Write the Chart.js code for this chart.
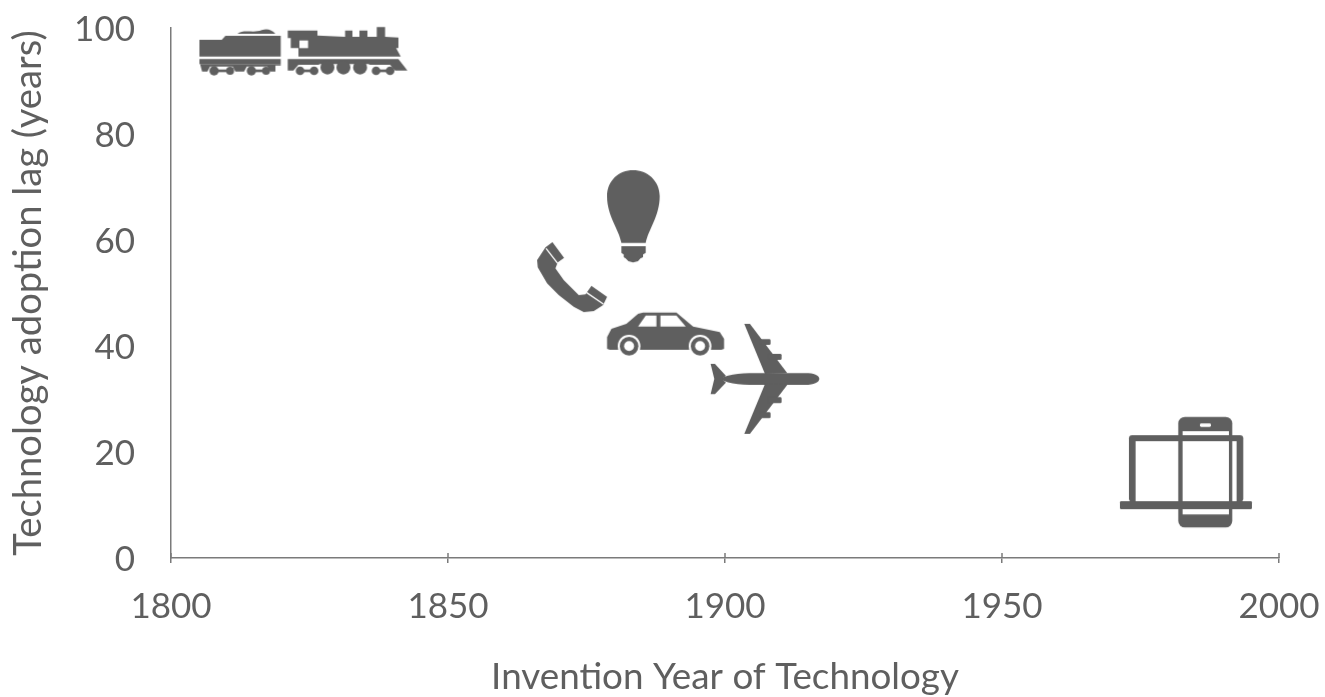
<!DOCTYPE html>
<html><head><meta charset="utf-8">
<style>html,body{margin:0;padding:0;background:#fff}#w{width:1325px;height:697px;position:relative}</style>
<script src="https://cdn.jsdelivr.net/npm/chart.js@4"></script></head>
<body><div id="w"><canvas id="c" width="1325" height="697"></canvas></div>
<script>
const technologies = ["Railroad","Telephone","Light bulb","Automobile","Airplane","Computer and phone"];
const inventionYears = [1823.9,1872.4,1883.4,1889.3,1907.2,1983.2];
const adoptionLags = [95.7,53,64.5,42.3,33.8,16.2];
const xTicks = [1800,1850,1900,1950,2000];
const yTicks = [0,20,40,60,80,100];
const xTitle = "Invention Year of Technology";
const yTitle = "Technology adoption lag (years)";
const INK = "#5f5f5f", TEXT = "#5f5f5f", AXIS = "#7a7a7a";
const FONT = "Lato";

function icon(w,h,cx,cy,draw){
  const c=document.createElement("canvas");c.width=w;c.height=h;
  const g=c.getContext("2d");
  g.translate(w/2,h/2);g.scale(1/3,1/3);g.translate(-cx,-cy);
  g.fillStyle=INK;g.strokeStyle=INK;g.lineJoin="round";
  draw(g);return c;
}
function poly(g,p,col){g.beginPath();p.forEach((q,i)=>i?g.lineTo(q[0],q[1]):g.moveTo(q[0],q[1]));g.closePath();if(col)g.fillStyle=col;g.fill();g.fillStyle=INK;}
function circ(g,x,y,r,col){g.beginPath();g.arc(x,y,r,0,7);if(col)g.fillStyle=col;g.fill();g.fillStyle=INK;}
function rr(g,x0,y0,x1,y1,r,col){g.beginPath();g.roundRect(x0,y0,x1-x0,y1-y0,r);if(col)g.fillStyle=col;g.fill();g.fillStyle=INK;}

const trainIcon=icon(226,70,340,108,g=>{
  poly(g,[[28,75],[95,75],[106,63],[272,63],[272,125],[28,125]]);
  g.beginPath();g.moveTo(142,57);g.bezierCurveTo(160,42,190,56,215,46);g.bezierCurveTo(230,40,245,44,256,57);g.closePath();g.fill();
  rr(g,28,133,272,148,0);
  poly(g,[[30,148],[272,148],[272,152],[256,152],[256,170],[240,170],[232,155],[170,155],[162,170],[136,170],[128,155],[60,155],[52,170],[36,170]]);
  [[72,168,109,120],[184,168,221,228]].forEach(([a,y,b,c])=>{circ(g,a,y,14);circ(g,c,y,12);rr(g,a,y-4,c,y+4,0);});
  poly(g,[[293,47],[382,47],[382,62],[465,66],[465,47],[487,47],[487,66],[508,66],[508,47],[532,47],[532,66],[560,66],[560,37],[585,37],[585,66],[625,68],[625,100],[618,100],[632,125],[325,125],[325,100],[302,100],[302,70],[293,70]]);
  rr(g,328,77,354,100,0,"#fff");
  poly(g,[[293,133],[625,133],[652,167],[615,167],[600,150],[540,150],[535,148],[390,148],[385,150],[325,150],[310,167],[293,167]]);
  [412,460,510].forEach(x=>circ(g,x,158,21));
  [[330,372],[558,600]].forEach(([a,b])=>{circ(g,a,168,13);circ(g,b,168,13);rr(g,a,164,b,172,0);});
});
const bulbIcon=icon(64,100,310,165,g=>{
  g.beginPath();g.moveTo(275,245);g.bezierCurveTo(268,205,232,165,232,105);g.bezierCurveTo(232,58,268,27,310,27);g.bezierCurveTo(352,27,390,58,390,105);g.bezierCurveTo(390,165,356,205,348,245);g.closePath();g.fill();
  poly(g,[[275,255],[348,255],[348,275],[340,280],[340,288],[332,292],[325,300],[310,304],[296,300],[288,292],[282,288],[282,280],[275,275]]);
});
const phoneIcon=icon(80,78,125,351,g=>{
  poly(g,[[45,262],[66,246],[101,293],[82,307],[75,325],[100,360],[145,405],[165,403],[183,377],[230,410],[218,435],[190,453],[160,456],[130,440],[85,405],[50,370],[22,322],[20,300]]);
  g.strokeStyle="#fff";g.lineWidth=4;
  g.beginPath();g.moveTo(47,265);g.lineTo(82,310);g.moveTo(168,397);g.lineTo(219,432);g.stroke();
});
const carIcon=icon(124,50,408,520,g=>{
  poly(g,[[232,565],[232,530],[245,505],[290,490],[325,460],[340,456],[440,456],[490,498],[570,515],[583,535],[583,565],[575,568],[240,568]]);
  poly(g,[[325,498],[348,465],[380,465],[380,498]],"#fff");
  poly(g,[[392,465],[440,465],[468,498],[392,498]],"#fff");
  [298,511].forEach(x=>{circ(g,x,557,34,"#fff");circ(g,x,557,28);circ(g,x,557,15,"#fff");});
});
const planeIcon=icon(116,116,705,657,g=>{
  g.beginPath();g.moveTo(570,657);g.bezierCurveTo(600,640,640,640,700,640);g.lineTo(835,640);g.bezierCurveTo(860,642,868,650,868,657);g.bezierCurveTo(868,664,860,672,835,675);g.lineTo(700,675);g.bezierCurveTo(640,675,600,675,570,657);g.fill();
  poly(g,[[542,612],[555,612],[588,648],[575,657],[588,668],[555,703],[542,703],[553,657]]);
  poly(g,[[643,492],[660,492],[772,640],[705,642]]);
  poly(g,[[643,822],[660,822],[772,675],[705,673]]);
  rr(g,690,538,722,555,4);rr(g,715,582,755,600,4);
  rr(g,715,712,755,730,4);rr(g,690,757,722,775,4);
});
const deviceIcon=icon(136,116,228,201,g=>{
  rr(g,205,35,367,367,20);
  rr(g,218,78,357,328,0,"#fff");
  rr(g,270,55,303,65,4,"#fff");
  rr(g,57,90,400,290,10);
  rr(g,77,108,205,290,0,"#fff");
  rr(g,218,108,357,290,0,"#fff");
  rr(g,367,108,380,290,0,"#fff");
  rr(g,30,288,426,312,4);
});
const icons=[trainIcon,phoneIcon,bulbIcon,carIcon,planeIcon,deviceIcon];

const innerTicks={id:"innerTicks",afterDraw(ch){
  const g=ch.ctx,s=ch.scales.x,b=s.top;
  g.save();g.strokeStyle=AXIS;g.lineWidth=1.5;
  xTicks.forEach(v=>{const x=s.getPixelForValue(v);g.beginPath();g.moveTo(x,b-5);g.lineTo(x,b);g.stroke();});
  g.restore();
}};

new Chart(document.getElementById("c"),{
  type:"scatter",
  data:{datasets:[{label:"Technologies",
    data:inventionYears.map((x,i)=>({x,y:adoptionLags[i],name:technologies[i]})),
    pointStyle:icons,pointRadius:1,showLine:false,clip:false}]},
  plugins:[innerTicks],
  options:{responsive:false,animation:false,
    events:[],
    layout:{padding:{top:28,right:46,left:0,bottom:0}},
    plugins:{legend:{display:false},tooltip:{enabled:false}},
    scales:{
      x:{type:"linear",min:1800,max:2000,
        afterBuildTicks(s){s.ticks=xTicks.map(value=>({value}));},
        afterFit(s){s.height=139;s.paddingLeft=0;s.paddingRight=0;},
        border:{color:AXIS,width:1.5},
        grid:{drawOnChartArea:false,drawTicks:true,tickLength:5,color:AXIS,lineWidth:1.5},
        ticks:{color:TEXT,font:{family:FONT,size:35},padding:23,maxRotation:0,autoSkip:false,callback:v=>String(v)},
        title:{display:true,text:xTitle,color:TEXT,font:{family:FONT,size:36.8,lineHeight:1},padding:{top:0,bottom:1}}},
      y:{type:"linear",min:0,max:100,
        afterBuildTicks(s){s.ticks=yTicks.map(value=>({value}));},
        afterFit(s){s.width=171;s.paddingTop=0;s.paddingBottom=0;},
        border:{color:AXIS,width:1.5},
        grid:{display:false,drawTicks:false},
        ticks:{color:TEXT,font:{family:FONT,size:35},padding:36,labelOffset:1.5,autoSkip:false},
        title:{display:true,text:yTitle,color:TEXT,font:{family:FONT,size:38.2,lineHeight:1},padding:{top:10,bottom:0}}}
    }}
});
</script></body></html>
